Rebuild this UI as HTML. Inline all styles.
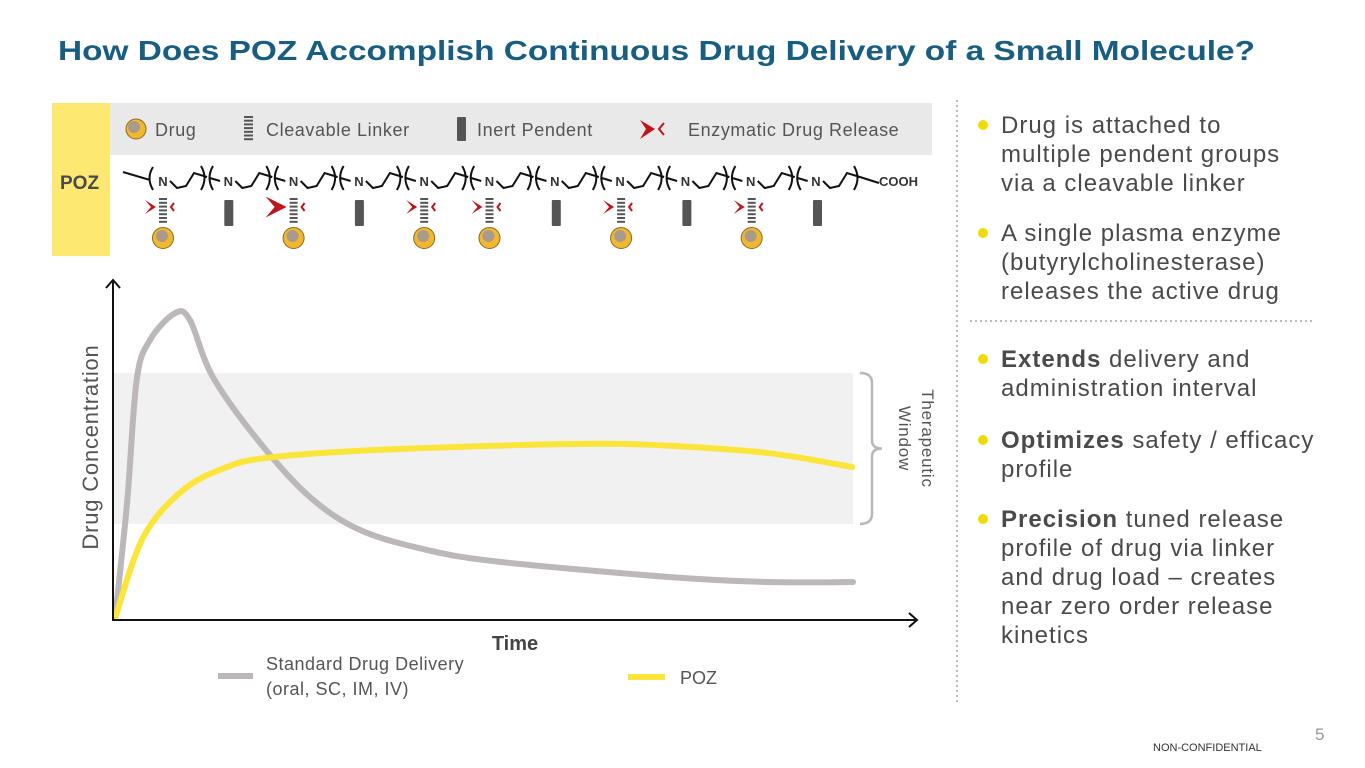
<!DOCTYPE html>
<html><head><meta charset="utf-8"><style>
html,body{margin:0;padding:0;background:#fff;}
svg{display:block;font-family:"Liberation Sans",sans-serif;}
</style></head><body>
<svg id="s" width="1365" height="768" viewBox="0 0 1365 768" xmlns="http://www.w3.org/2000/svg">
<text x="58" y="60" font-size="28" font-weight="bold" fill="#175e82" textLength="1197" lengthAdjust="spacingAndGlyphs">How Does POZ Accomplish Continuous Drug Delivery of a Small Molecule?</text>

<g>
<rect x="52" y="103" width="58" height="153" fill="#fde871"/>
<text x="60" y="189" font-size="19" font-weight="bold" fill="#4a4a4a">POZ</text>
<rect x="110" y="103" width="822" height="52" fill="#e9e9e9"/>
<g font-size="18" fill="#555" letter-spacing="0.6">
<g>
<circle cx="136" cy="129" r="10" fill="#f2b731" stroke="#8a6a20" stroke-width="1"/><circle cx="134" cy="127" r="6" fill="#a89b8c"/>
<text x="155" y="136">Drug</text></g>
<g id="legLinker"><text x="266" y="136">Cleavable Linker</text></g>
<g><rect x="457" y="117" width="9" height="24" rx="1" fill="#555"/><text x="477" y="136">Inert Pendent</text></g>
<g>
<path d="M640,120 L655,129 L640,139 L646,129 Z" fill="#c0141c"/><path d="M664,123 L659,129 L664,135" fill="none" stroke="#c0141c" stroke-width="2"/>
<text x="688" y="136">Enzymatic Drug Release</text></g>
</g>
<g id="chain"></g>
<text x="879" y="186" font-size="13" font-weight="bold" fill="#333">COOH</text>
<g id="pend"></g>
</g>

<g id="chart"></g>

<line x1="957" y1="100" x2="957" y2="702" stroke="#bbb" stroke-width="2" stroke-dasharray="2,3"/>
<line x1="970" y1="321" x2="1313" y2="321" stroke="#bbb" stroke-width="2" stroke-dasharray="2,3"/>
<g font-size="24" fill="#4a4a4a" letter-spacing="1">
<g><circle cx="983" cy="125" r="5" fill="#f0db0a"/>
<text x="1001" y="133">Drug is attached to</text><text x="1001" y="162">multiple pendent groups</text><text x="1001" y="191">via a cleavable linker</text></g>
<g><circle cx="983" cy="233" r="5" fill="#f0db0a"/>
<text x="1001" y="241">A single plasma enzyme</text><text x="1001" y="270">(butyrylcholinesterase)</text><text x="1001" y="299">releases the active drug</text></g>
<g><circle cx="983" cy="359" r="5" fill="#f0db0a"/>
<text x="1001" y="367"><tspan font-weight="bold">Extends</tspan> delivery and</text><text x="1001" y="396">administration interval</text></g>
<g><circle cx="983" cy="440" r="5" fill="#f0db0a"/>
<text x="1001" y="448"><tspan font-weight="bold">Optimizes</tspan> safety / efficacy</text><text x="1001" y="477">profile</text></g>
<g><circle cx="983" cy="519" r="5" fill="#f0db0a"/>
<text x="1001" y="527"><tspan font-weight="bold">Precision</tspan> tuned release</text><text x="1001" y="556">profile of drug via linker</text><text x="1001" y="585">and drug load – creates</text><text x="1001" y="614">near zero order release</text><text x="1001" y="643">kinetics</text></g>
</g>
<text x="1315" y="740" font-size="17" fill="#999">5</text>
<text x="1153" y="751" font-size="11" fill="#333">NON-CONFIDENTIAL</text>
</svg>
<script>
// ---- chart data ----
const timePts = [0.3,1.9,3.2,5.0,8.4,10.4,13.5,19.9,26.6,33.4,42.4,52.3,74.9,88.4,100];
const standardVals = [1.0,38.2,78.4,91.5,100.3,98.0,79.4,57.8,40.2,29.4,22.9,19.0,14.1,12.4,12.4];
const pozTime = [0.3,4.1,9.5,15.4,20.8,33.4,52.3,65.8,74.9,88.4,99.9];
const pozVals = [0.7,27.1,42.5,50.0,53.0,55.3,57.0,57.6,57.0,54.6,50.0];
const windowRange = [31.4,80.7];
// diagram data: pendent type per monomer
const pendentTypes = ['drug','inert','drug','inert','drug','drug','inert','drug','inert','drug','inert'];
const largeScissors = [false,false,true,false,false,false,false,false,false,false,false];

const NS='http://www.w3.org/2000/svg';
function mk(tag,attrs,parent){const e=document.createElementNS(NS,tag);for(const k in attrs)e.setAttribute(k,attrs[k]);parent.appendChild(e);return e;}
const X=t=>113+t/100*740, Y=c=>620-c/100*306;
const chart=document.getElementById('chart');

const band=mk('rect',{x:113,y:Y(windowRange[1]),width:740,height:Y(windowRange[0])-Y(windowRange[1]),fill:'#f1f1f1'},chart);



function smooth(xs,ys){const p=xs.map((t,i)=>[X(t),Y(ys[i])]);let d='M'+p[0][0]+','+p[0][1];
for(let i=0;i<p.length-1;i++){const p0=p[Math.max(i-1,0)],p1=p[i],p2=p[i+1],p3=p[Math.min(i+2,p.length-1)];
d+=` C${p1[0]+(p2[0]-p0[0])/6},${p1[1]+(p2[1]-p0[1])/6} ${p2[0]-(p3[0]-p1[0])/6},${p2[1]-(p3[1]-p1[1])/6} ${p2[0]},${p2[1]}`;}return d;}
const sLine=mk('path',{d:smooth(timePts,standardVals),fill:'none',stroke:'#bcb8ba','stroke-width':6,'stroke-linecap':'round'},chart);


const pLine=mk('path',{d:smooth(pozTime,pozVals),fill:'none',stroke:'#fbe53b','stroke-width':6,'stroke-linecap':'round'},chart);



const ax=mk('path',{d:'M113,280 L113,620 L917,620 M106,288 L113,280 L120,288 M909,613 L917,620 L909,627',fill:'none',stroke:'#111','stroke-width':2},chart);


const y0=Y(windowRange[1]),y1=Y(windowRange[0]),ym=(y0+y1)/2;
const brace=mk('path',{d:`M860,${y0} Q872,${y0} 872,${y0+10} L872,${ym-8} Q872,${ym} 882,${ym} Q872,${ym} 872,${ym+8} L872,${y1-10} Q872,${y1} 860,${y1}`,fill:'none',stroke:'#b8b8b8','stroke-width':2.5},chart);


const tw=mk('text',{transform:`translate(922,${ym-10}) rotate(90)`,'font-size':17,fill:'#555','text-anchor':'middle','letter-spacing':0.8},chart);
tw.textContent='Therapeutic';


const tw2=mk('text',{transform:`translate(899,${ym-10}) rotate(90)`,'font-size':17,fill:'#555','text-anchor':'middle','letter-spacing':0.8},chart);
tw2.textContent='Window';


const yl=mk('text',{transform:'translate(98,447) rotate(-90)','font-size':22,fill:'#555','text-anchor':'middle','letter-spacing':0.8},chart);
yl.textContent='Drug Concentration';


const xl=mk('text',{x:515,y:650,'font-size':20,'font-weight':'bold',fill:'#444','text-anchor':'middle'},chart);
xl.textContent='Time';


const lg1=mk('g',{'letter-spacing':0.5},chart);


mk('line',{x1:218,y1:676,x2:253,y2:676,stroke:'#bcb8ba','stroke-width':6},lg1);
mk('text',{x:266,y:670,'font-size':18,fill:'#555'},lg1).textContent='Standard Drug Delivery';
mk('text',{x:266,y:695,'font-size':18,fill:'#555'},lg1).textContent='(oral, SC, IM, IV)';
const lg2=mk('g',{},chart);


mk('line',{x1:628,y1:677,x2:665,y2:677,stroke:'#fbe53b','stroke-width':6},lg2);
mk('text',{x:680,y:684,'font-size':18,fill:'#555'},lg2).textContent='POZ';

// legend linker icon
const ll=document.getElementById('legLinker');
for(let i=0;i<7;i++)mk('line',{x1:244,x2:253,y1:117+i*3.7,y2:117+i*3.7,stroke:'#555','stroke-width':2},ll);

// chain
const chain=document.getElementById('chain');
let d='M123,172 L150,180 M153,167 Q146,178 153,190';
pendentTypes.forEach((_,i)=>{const n=163+i*65.3;
 const t=mk('text',{x:n,y:186,'font-size':13,'font-weight':'bold',fill:'#333','text-anchor':'middle'},chain);t.textContent='N';
 d+=` M${n+7},181 L${n+14},188 L${n+23},186 L${n+31},173 L${n+44},177`;
 d+=` M${n+38},166 Q${n+45},178 ${n+38},190`;
 if(i===pendentTypes.length-1){ d+=` M${n+44},177 L${n+63},183`; }
 else { d+=` M${n+50},166 Q${n+43},178 ${n+50},190 M${n+47},178 L${n+57},181`; }
});
mk('path',{d:d,fill:'none',stroke:'#111','stroke-width':2},chain);

// pendents
const pend=document.getElementById('pend');
pendentTypes.forEach((tp,i)=>{const x=163+i*65.3+(i>5?1:0);
 if(tp==='inert'){mk('rect',{x:x-4,y:200,width:9,height:26,rx:1,fill:'#555'},pend);return;}
 for(let k=0;k<7;k++)mk('line',{x1:x-4,x2:x+4,y1:199+k*3.8,y2:199+k*3.8,stroke:'#555','stroke-width':2},pend);
 const s=largeScissors[i]?1.5:1;
 mk('path',{d:`M${x-20*s+2},${207-7*s} L${x-7},207 L${x-20*s+2},${207+7*s} L${x-14*s+2},207 Z`,fill:'#c0141c'},pend);
 mk('path',{d:`M${x+11},${203} L${x+8},207 L${x+11},211`,fill:'none',stroke:'#c0141c','stroke-width':2},pend);
 mk('circle',{cx:x,cy:238,r:10.5,fill:'#f2b731',stroke:'#8a6a20','stroke-width':1},pend);
 mk('circle',{cx:x-1,cy:236,r:6,fill:'#a89b8c'},pend);
});
</script>
</body></html>
